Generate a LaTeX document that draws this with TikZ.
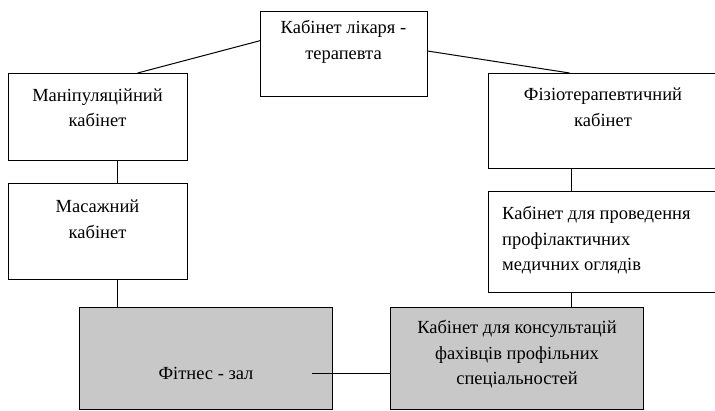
\documentclass[tikz,border=0pt]{standalone}
\usepackage{fontspec}
\setmainfont{Liberation Serif}
\newfontfamily\roomfont{Liberation Serif}
\usetikzlibrary{positioning}

\definecolor{roomgray}{RGB}{200,200,200}

\begin{document}
\begin{tikzpicture}[
      x=1pt, y=-1pt,
      room/.style={rectangle, draw, line width=1pt, anchor=north west, inner sep=0pt},
      shaded/.style={room, fill=roomgray},
      caption/.style={inner sep=0pt, anchor=north, align=center, font=\roomfont\fontsize{18.5}{25.5}\selectfont},
      link/.style={line width=1pt}
    ]
    \clip (0,0) rectangle (715,410);
    % boxes
    \node[room, minimum width=167pt, minimum height=85pt] (likar) at (260,11) {};
    \node[room, minimum width=179pt, minimum height=87pt] (manip) at (8,73) {};
    \node[room, minimum width=179pt, minimum height=96pt] (masazh) at (8,183) {};
    \node[room, minimum width=232pt, minimum height=95pt] (fizio) at (488,73) {};
    \node[room, minimum width=232pt, minimum height=101pt] (prof) at (488,191) {};
    \node[shaded, minimum width=253pt, minimum height=102pt] (fitnes) at (79,307) {};
    \node[shaded, minimum width=253pt, minimum height=102pt] (consult) at (390,307) {};
    % texts
    \node[caption] (likarT) at (343.5,20.5) {Кабінет лікаря -\\терапевта};
    \node[caption] (manipT) at (97.5,88.5) {Маніпуляційний\\кабінет};
    \node[caption] (masazhT) at (97.5,200) {Масажний\\кабінет};
    \node[caption] (fizioT) at (603,88) {Фізіотерапевтичний\\кабінет};
    \node[caption, anchor=north west, align=left] (profT) at (502,206.5) {Кабінет для проведення\\профілактичних\\медичних оглядів};
    \node[caption] (fitnesT) at (206,367) {Фітнес - зал};
    \node[caption] (consultT) at (517,320.5) {Кабінет для консультацій\\фахівців профільних\\спеціальностей};
    % connectors
    \coordinate (axisL) at (117,0);
    \coordinate (axisR) at (571,0);
    \coordinate (hook) at (312,373);
    \draw[link] (likar.171) -- (manip.48);
    \draw[link] (likar.2) -- (fizio.126);
    \draw[link] (manip.south -| axisL) -- (masazh.north -| axisL);
    \draw[link] (masazh.south -| axisL) -- (fitnes.north -| axisL);
    \draw[link] (fizio.south -| axisR) -- (prof.north -| axisR);
    \draw[link] (prof.south -| axisR) -- (consult.north -| axisR);
    \draw[link] (hook) -- (hook -| consult.west);
\end{tikzpicture}
\end{document}
